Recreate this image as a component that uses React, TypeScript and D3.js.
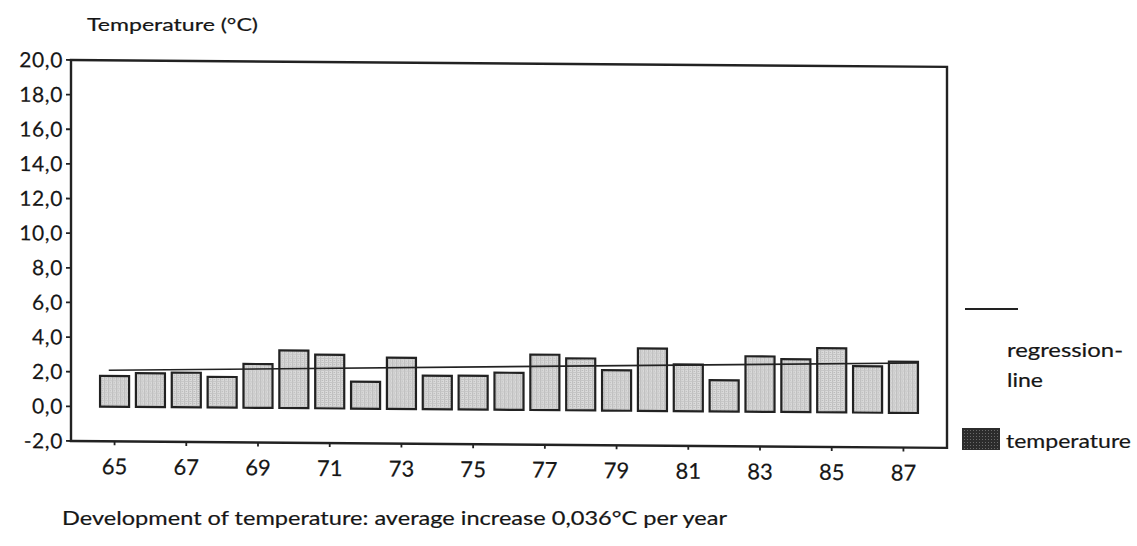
import React from "react";
import * as d3 from "d3";

// Annual mean temperature, 1965–1987 (°C)
const years: number[] = [65, 66, 67, 68, 69, 70, 71, 72, 73, 74, 75, 76, 77, 78, 79, 80, 81, 82, 83, 84, 85, 86, 87];
const temperature: number[] = [1.77, 1.95, 2.0, 1.77, 2.53, 3.33, 3.1, 1.55, 2.96, 1.93, 1.95, 2.14, 3.2, 3.0, 2.33, 3.6, 2.7, 1.8, 3.2, 3.05, 3.7, 2.68, 2.95];

// Axis ticks
const yTicks: number[] = [-2, 0, 2, 4, 6, 8, 10, 12, 14, 16, 18, 20];
const xTickYears: number[] = [65, 67, 69, 71, 73, 75, 77, 79, 81, 83, 85, 87];

// Linear trend: starting level and the stated average increase per year
const trendStart = 2.1;
const trendPerYear = 0.036;

const W = 1137;
const H = 546;
const frame = { left: 71, right: 947, top: 60, bottom: 441 };
const font = "Lato, 'Open Sans', sans-serif";
const ink = "#161616";
const textStyle = { stroke: ink, strokeWidth: 0.2 };

export default function App() {
  const x = d3
    .scaleBand<number>()
    .domain(years)
    .range([frame.left, frame.right])
    .paddingInner(0.19)
    .paddingOuter(0.81);

  const y = d3.scaleLinear().domain([-2, 20]).range([frame.bottom, frame.top]);

  const fmt = (v: number) => v.toFixed(1).replace(".", ",");

  const bw = x.bandwidth();
  const first = years[0];
  const last = years[years.length - 1];
  const trend = [
    { x: (x(first) as number) + bw * 0.3, v: trendStart },
    { x: (x(last) as number) + bw, v: trendStart + trendPerYear * (last - first) },
  ];
  const trendPath = d3
    .line<{ x: number; v: number }>()
    .x((d) => d.x)
    .y((d) => y(d.v))(trend);

  // the printed chart sits very slightly askew on the page
  const skew = `translate(${frame.left},0) skewY(0.45) translate(${-frame.left},0)`;

  return (
    <svg width={W} height={H} style={{ display: "block", position: "absolute", left: 0, top: 0, background: "#fff" }}>
      <defs>
        <pattern id="stipple" width="4" height="4" patternUnits="userSpaceOnUse">
          <rect width="4" height="4" fill="#dcdcdc" />
          <rect x="0" y="0" width="1" height="4" fill="#bdbdbd" />
          <rect x="0" y="0" width="4" height="1" fill="#c4c4c4" />
          <rect x="2" y="2" width="1" height="1" fill="#a8a8a8" />
        </pattern>
        <pattern id="stippleDark" width="3" height="3" patternUnits="userSpaceOnUse">
          <rect width="3" height="3" fill="#2c2c2c" />
          <rect x="1" y="1" width="1" height="1" fill="#6a6a6a" />
        </pattern>
      </defs>

      {/* Axis title */}
      <text x={87} y={31} fontFamily={font} fontSize={17} fill={ink} style={textStyle} textLength={171} lengthAdjust="spacingAndGlyphs">
        Temperature (°C)
      </text>

      <g transform={skew}>
        {/* Bars */}
        {years.map((yr, i) => {
          const v = temperature[i];
          const top = y(Math.max(0, v));
          const h = Math.abs(y(v) - y(0));
          return (
            <rect
              key={yr}
              x={x(yr)}
              y={top}
              width={bw}
              height={h}
              fill="url(#stipple)"
              stroke="#222"
              strokeWidth={2.2}
            />
          );
        })}

        {/* Regression line */}
        <path d={trendPath ?? ""} fill="none" stroke="#222" strokeWidth={1.6} />

        {/* Plot frame */}
        <rect
          x={frame.left}
          y={frame.top}
          width={frame.right - frame.left}
          height={frame.bottom - frame.top}
          fill="none"
          stroke="#222"
          strokeWidth={2.4}
        />

        {/* Y axis ticks */}
        {yTicks.map((t) => (
          <g key={t}>
            <line x1={frame.left - 5} x2={frame.left} y1={y(t)} y2={y(t)} stroke="#222" strokeWidth={1.8} />
            <text
              x={frame.left - 8}
              y={y(t)}
              dy="0.36em"
              textAnchor="end"
              fontFamily={font}
              fontSize={21}
              letterSpacing={0.6}
              fill={ink}
              style={textStyle}
            >
              {fmt(t)}
            </text>
          </g>
        ))}

        {/* X axis ticks */}
        {xTickYears.map((yr) => {
          const cx = (x(yr) as number) + bw / 2;
          return (
            <g key={yr}>
              <line x1={cx} x2={cx} y1={frame.bottom} y2={frame.bottom + 4} stroke="#222" strokeWidth={1.8} />
              <text x={cx} y={frame.bottom + 33} textAnchor="middle" fontFamily={font} fontSize={22} fill={ink} style={textStyle}>
                {yr}
              </text>
            </g>
          );
        })}
      </g>

      {/* Legend */}
      <line x1={965} x2={1018} y1={309} y2={309} stroke="#222" strokeWidth={2} />
      <text x={1007} y={357} fontFamily={font} fontSize={19} fill={ink} style={textStyle} textLength={116} lengthAdjust="spacingAndGlyphs">
        regression-
      </text>
      <text x={1007} y={387} fontFamily={font} fontSize={19} fill={ink} style={textStyle} textLength={36} lengthAdjust="spacingAndGlyphs">
        line
      </text>
      <rect x={962} y={428} width={38} height={22} fill="url(#stippleDark)" />
      <text x={1006} y={448} fontFamily={font} fontSize={19} fill={ink} style={textStyle} textLength={125} lengthAdjust="spacingAndGlyphs">
        temperature
      </text>

      {/* Caption */}
      <text x={62} y={525} fontFamily={font} fontSize={20} fill={ink} style={textStyle} textLength={665} lengthAdjust="spacingAndGlyphs">
        Development of temperature: average increase 0,036°C per year
      </text>
    </svg>
  );
}
